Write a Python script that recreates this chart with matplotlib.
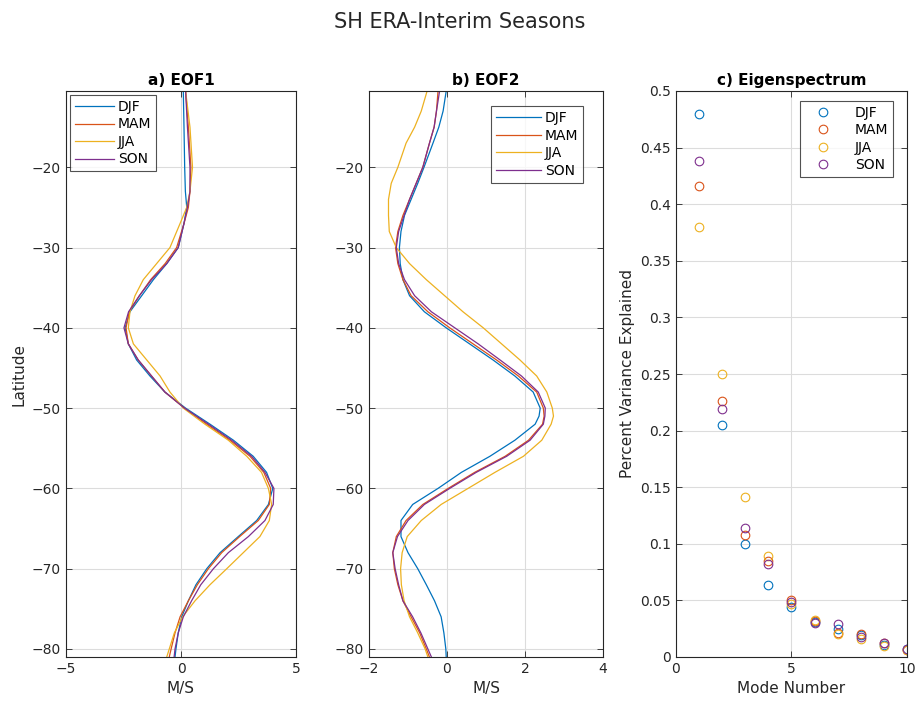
import matplotlib
matplotlib.use("Agg")
import matplotlib.pyplot as plt

plt.rcParams['font.family'] = ['DejaVu Sans']

seasons = ['DJF', 'MAM', 'JJA', 'SON']
colors = ['#0072BD', '#D95319', '#EDB120', '#7E2F8E']

# Panel a: EOF1
lat_a = [-10.5, -15, -20, -23, -25, -27, -30, -32, -34, -36, -38, -40, -42, -44, -46, -48,
         -50, -52, -54, -56, -58, -60, -62, -64, -66, -68, -70, -72, -74, -76, -78, -80, -81]
eof1_djf = [0.1, 0.13, 0.16, 0.19, 0.25, 0.13, -0.12, -0.62, -1.2, -1.71, -2.22, -2.43, -2.29, -1.93,
            -1.35, -0.7, 0.2, 1.26, 2.28, 3.14, 3.72, 3.99, 3.8, 3.29, 2.49, 1.7, 1.12, 0.65, 0.32,
            0.03, -0.12, -0.22, -0.26]
eof1_mam = [0.2, 0.32, 0.43, 0.39, 0.32, 0.13, -0.19, -0.69, -1.32, -1.81, -2.25, -2.39, -2.29, -1.86,
            -1.28, -0.7, 0.15, 1.12, 2.13, 3.0, 3.6, 3.9, 3.84, 3.36, 2.55, 1.77, 1.19, 0.71, 0.32,
            -0.04, -0.26, -0.43, -0.51]
eof1_jja = [0.2, 0.39, 0.5, 0.39, 0.25, -0.04, -0.48, -1.06, -1.64, -2.0, -2.22, -2.29, -2.07, -1.49,
            -0.91, -0.48, 0.1, 1.04, 2.06, 2.86, 3.5, 3.8, 3.94, 3.84, 3.43, 2.71, 1.99, 1.26, 0.61,
            0.07, -0.29, -0.51, -0.62]
eof1_son = [0.2, 0.28, 0.39, 0.39, 0.28, 0.13, -0.12, -0.62, -1.28, -1.81, -2.28, -2.48, -2.29, -1.86,
            -1.28, -0.7, 0.15, 1.19, 2.2, 3.07, 3.65, 4.04, 4.01, 3.65, 2.93, 2.06, 1.41, 0.86, 0.46,
            0.1, -0.12, -0.26, -0.3]

# Panel b: EOF2
lat_b = [-10.5, -13, -15, -17, -20, -22, -24, -26, -28, -30, -32, -34, -36, -38, -40, -42, -44,
         -46, -48, -50, -51, -52, -54, -56, -58, -60, -62, -64, -66, -68, -70, -72, -74, -76,
         -78, -80, -81]
eof2_djf = [-0.02, -0.1, -0.21, -0.36, -0.59, -0.75, -0.92, -1.09, -1.18, -1.22, -1.2, -1.13, -0.96,
            -0.58, -0.02, 0.58, 1.18, 1.74, 2.21, 2.39, 2.36, 2.26, 1.74, 1.1, 0.37, -0.23, -0.88,
            -1.18, -1.18, -1.0, -0.75, -0.53, -0.32, -0.15, -0.08, -0.03, -0.02]
eof2_mam = [-0.23, -0.27, -0.33, -0.45, -0.62, -0.79, -0.96, -1.13, -1.26, -1.32, -1.26, -1.13, -0.92,
            -0.49, 0.07, 0.67, 1.27, 1.83, 2.3, 2.47, 2.49, 2.45, 2.09, 1.49, 0.71, 0.03, -0.62,
            -1.05, -1.3, -1.39, -1.35, -1.26, -1.13, -0.92, -0.7, -0.53, -0.45]
eof2_jja = [-0.51, -0.66, -0.83, -1.05, -1.26, -1.43, -1.5, -1.5, -1.48, -1.3, -0.96, -0.53, -0.06,
            0.41, 0.93, 1.4, 1.87, 2.3, 2.56, 2.7, 2.73, 2.67, 2.43, 1.96, 1.23, 0.54, -0.15,
            -0.66, -1.02, -1.15, -1.19, -1.17, -1.1, -0.96, -0.75, -0.56, -0.49]
eof2_son = [-0.19, -0.27, -0.33, -0.45, -0.62, -0.79, -0.96, -1.1, -1.24, -1.3, -1.24, -1.09, -0.83,
            -0.4, 0.2, 0.8, 1.36, 1.91, 2.34, 2.52, 2.51, 2.47, 2.13, 1.53, 0.75, 0.07, -0.58,
            -1.0, -1.27, -1.39, -1.33, -1.24, -1.13, -0.88, -0.67, -0.49, -0.4]

# Panel c: Eigenspectrum
modes = [1, 2, 3, 4, 5, 6, 7, 8, 9, 10]
eig_djf = [0.480, 0.205, 0.100, 0.064, 0.044, 0.031, 0.025, 0.019, 0.011, 0.007]
eig_mam = [0.416, 0.226, 0.108, 0.085, 0.050, 0.032, 0.021, 0.020, 0.012, 0.006]
eig_jja = [0.380, 0.250, 0.141, 0.089, 0.047, 0.033, 0.020, 0.016, 0.010, 0.006]
eig_son = [0.438, 0.219, 0.114, 0.082, 0.049, 0.030, 0.029, 0.018, 0.012, 0.007]

W, H = 920, 705
fig = plt.figure(figsize=(W / 100, H / 100), dpi=100)

def pos(l, r, t=91, b=657):
    return [l / W, 1 - b / H, (r - l) / W, (b - t) / H]

ax_a = fig.add_axes(pos(66, 296))
ax_b = fig.add_axes(pos(369, 603))
ax_c = fig.add_axes(pos(676, 907))

ink = '#262626'

def style(ax):
    ax.grid(True, color='#dcdcdc', linewidth=0.8)
    ax.set_axisbelow(True)
    for s in ax.spines.values():
        s.set_color(ink)
        s.set_linewidth(0.8)
    ax.tick_params(direction='in', length=4, width=0.6, colors=ink, labelsize=10,
                   top=True, right=True, labelcolor=ink)

def add_legend(ax, **kw):
    leg = ax.legend(fontsize=10, frameon=True, fancybox=False, edgecolor=ink,
                    borderpad=0.35, labelspacing=0.25, **kw)
    leg.get_frame().set_linewidth(0.8)
    return leg

for xs, s, c in zip([eof1_djf, eof1_mam, eof1_jja, eof1_son], seasons, colors):
    ax_a.plot(xs, lat_a, color=c, lw=0.9, label=s)
ax_a.set_xlim(-5, 5)
ax_a.set_ylim(-81, -10.5)
ax_a.set_xticks([-5, 0, 5])
ax_a.set_yticks([-80, -70, -60, -50, -40, -30, -20])
ax_a.set_xlabel('M/S', fontsize=11, color=ink)
ax_a.set_ylabel('Latitude', fontsize=11, color=ink)
ax_a.set_title('a) EOF1', fontsize=11, fontweight='bold', color='black', pad=4)
style(ax_a)
add_legend(ax_a, loc='upper left', handlelength=2.8, handletextpad=0.3, borderaxespad=0.3)

for xs, s, c in zip([eof2_djf, eof2_mam, eof2_jja, eof2_son], seasons, colors):
    ax_b.plot(xs, lat_b, color=c, lw=0.9, label=s)
ax_b.set_xlim(-2, 4)
ax_b.set_ylim(-81, -10.5)
ax_b.set_xticks([-2, 0, 2, 4])
ax_b.set_yticks([-80, -70, -60, -50, -40, -30, -20])
ax_b.set_xlabel('M/S', fontsize=11, color=ink)
ax_b.set_title('b) EOF2', fontsize=11, fontweight='bold', color='black', pad=4)
style(ax_b)
add_legend(ax_b, loc='upper right', handlelength=3.2, handletextpad=0.3,
           bbox_to_anchor=(0.945, 0.985))

for ys, s, c in zip([eig_djf, eig_mam, eig_jja, eig_son], seasons, colors):
    ax_c.plot(modes, ys, linestyle='none', marker='o', markersize=6.2, markerfacecolor='none',
              markeredgecolor=c, markeredgewidth=0.8, label=s)
ax_c.set_xlim(0, 10)
ax_c.set_ylim(0, 0.5)
ax_c.set_xticks([0, 5, 10])
ax_c.set_yticks([0, 0.05, 0.1, 0.15, 0.2, 0.25, 0.3, 0.35, 0.4, 0.45, 0.5])
ax_c.set_yticklabels(['0', '0.05', '0.1', '0.15', '0.2', '0.25', '0.3', '0.35', '0.4', '0.45', '0.5'])
ax_c.set_xlabel('Mode Number', fontsize=11, color=ink)
ax_c.set_ylabel('Percent Variance Explained', fontsize=11, color=ink)
ax_c.set_title('c) Eigenspectrum', fontsize=11, fontweight='bold', color='black', pad=4)
style(ax_c)
add_legend(ax_c, loc='upper right', handlelength=2.6, handletextpad=1.0,
           bbox_to_anchor=(0.97, 0.995))

fig.suptitle('SH ERA-Interim Seasons', y=1 - 22 / H, va='center', fontsize=15, color=ink)

fig.savefig('out.png', dpi=100, facecolor='white')
